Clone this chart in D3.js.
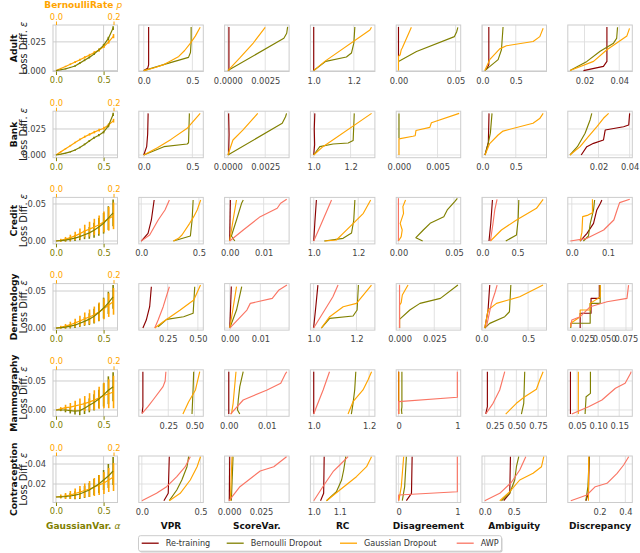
<!DOCTYPE html>
<html lang="en">
<head>
<meta charset="UTF-8">
<title>Loss difference vs. multiplicity metrics</title>
<script src="https://d3js.org/d3.v7.min.js"></script>
<style>
  body { margin: 0; background: #fff; }
  text { font-family: "DejaVu Sans", sans-serif; }
</style>
</head>
<body>
<svg id="chart" width="640" height="553"></svg>
<script>
// ---- labels ----
const datasets = ['Adult', 'Bank', 'Credit', 'Dermatology', 'Mammography', 'Contraception'];
const metrics = ['VPR', 'ScoreVar.', 'RC', 'Disagreement', 'Ambiguity', 'Discrepancy'];
const methods = ['Re-training', 'Bernoulli Dropout', 'Gaussian Dropout', 'AWP'];
const colors = ['#8b0000', '#808000', '#ffa500', '#fa7564'];

// ---- y axis (loss difference) per dataset ----
const yDomains = [[-0.0008, 0.0397], [-0.0026, 0.0421], [-0.0039, 0.0589], [-0.0028, 0.060], [-0.0109, 0.0693], [0.0015, 0.048]];
const yTickVals = [[0, 0.025], [0, 0.025], [0, 0.05], [0, 0.05], [0, 0.05], [0.02, 0.04]];
const yTickFmt = ['.3f', '.3f', '.2f', '.2f', '.2f', '.2f'];

// ---- x axes of the metric panels ----
const xDomains = [
  [[-0.051, 0.612], [-0.00022, 0.0041], [0.9835, 1.305], [-0.002, 0.0545], [-0.005, 0.96], [0.0104, 0.0475]],
  [[-0.051, 0.612], [-0.00022, 0.0041], [0.982, 1.332], [-0.00036, 0.008], [-0.005, 0.96], [0.0003, 0.0417]],
  [[-0.021, 0.538], [-0.0015, 0.0175], [0.985, 1.275], [-0.002, 0.056], [-0.006, 0.914], [-0.011, 0.167]],
  [[0.011, 0.545], [-0.0017, 0.0194], [0.985, 1.286], [-0.0024, 0.044], [0.006, 0.697], [0.0082, 0.0823]],
  [[-0.032, 0.585], [-0.0011, 0.0159], [0.988, 1.221], [-0.04, 1.057], [0.104, 0.847], [0.028, 0.181]],
  [[-0.026, 0.524], [-0.0035, 0.047], [0.987, 1.235], [-0.04, 1.057], [-0.047, 1.064], [-0.046, 0.454]]
];
const xTickVals = [
  [[0, 0.5], [0, 0.0025], [1.0, 1.2], [0, 0.05], [0, 0.5], [0.02, 0.04]],
  [[0, 0.5], [0, 0.0025], [1.0, 1.2], [0, 0.005], [0, 0.5], [0.02, 0.04]],
  [[0, 0.5], [0, 0.01], [1.0, 1.2], [0, 0.05], [0, 0.5], [0, 0.1]],
  [[0.25, 0.5], [0, 0.01], [1.0, 1.2], [0, 0.025], [0, 0.5], [0.025, 0.05, 0.075]],
  [[0.25, 0.5], [0, 0.01], [1.0, 1.2], [0, 1], [0.25, 0.5, 0.75], [0.05, 0.1, 0.15]],
  [[0, 0.5], [0, 0.025], [1.0, 1.1], [0, 1], [0, 0.5], [0.2, 0.4]]
];
const xTickFmt = [
  ['.1f', '.4f', '.1f', '.2f', '.1f', '.2f'],
  ['.1f', '.4f', '.1f', '.3f', '.1f', '.2f'],
  ['.1f', '.2f', '.1f', '.2f', '.1f', '.1f'],
  ['.2f', '.2f', '.1f', '.3f', '.1f', '.3f'],
  ['.2f', '.2f', '.1f', '.0f', '.2f', '.2f'],
  ['.1f', '.3f', '.1f', '.0f', '.1f', '.1f']
];

// ---- first column: epsilon vs. hyper-parameter ----
const alphaVals = [0, 0.05, 0.1, 0.15, 0.2, 0.25, 0.3, 0.35, 0.4, 0.45, 0.5, 0.55, 0.6];
const rateVals = [0, 0.0167, 0.0333, 0.05, 0.0667, 0.0833, 0.1, 0.1167, 0.1333, 0.15, 0.1667, 0.1833, 0.2];
const alphaEps = [
  [0, .0007, .0015, .0027, .004, .0065, .009, .0115, .0145, .018, .022, .028, .037],
  [0, .0008, .0018, .003, .0048, .0072, .0102, .0135, .0165, .019, .022, .028, .039],
  [0, .0005, .0012, .0025, .004, .006, .0085, .011, .0145, .019, .024, .031, .038],
  [0, .0005, .0012, .0025, .004, .0065, .009, .012, .016, .021, .027, .034, .042],
  [0, 0, 0, -.001, -.002, -.001, .003, .008, .013, .019, .026, .034, .040],
  [.007, .0072, .0075, .008, .0088, .01, .012, .014, .017, .02, .024, .028, .033]
];
const alphaErr = [
  [0, .0003, .0004, .0005, .0006, .0007, .0008, .0009, .001, .0011, .0012, .0014, .0016],
  [0, .0003, .0004, .0005, .0006, .0007, .0008, .0009, .001, .0011, .0012, .0014, .0016],
  [0, .001, .002, .003, .004, .005, .006, .008, .01, .012, .014, .016, .018],
  [0, .001, .002, .003, .004, .005, .006, .008, .01, .012, .014, .015, .016],
  [0, .002, .004, .005, .006, .008, .01, .012, .014, .016, .02, .024, .025],
  [0, .001, .002, .003, .004, .005, .006, .007, .008, .009, .01, .012, .014]
];
const rateEps = [
  [0, .0018, .0036, .0055, .0075, .0095, .0115, .0135, .0157, .018, .021, .025, .030],
  [0, .003, .006, .009, .012, .015, .0176, .0198, .022, .024, .0257, .029, .033],
  [0, .001, .0025, .0045, .007, .010, .0135, .016, .019, .022, .026, .030, .034],
  [0, .001, .0025, .0045, .007, .0095, .0125, .015, .018, .022, .026, .031, .036],
  [0, .002, .004, .005, .007, .009, .011, .014, .017, .021, .025, .028, .031],
  [.007, .0075, .008, .009, .0105, .012, .0135, .015, .017, .019, .021, .024, .027]
];
const rateErr = [
  [0, .0005, .0006, .0007, .0008, .0009, .001, .0011, .0012, .0013, .0014, .0015, .0018],
  [0, .0005, .0006, .0007, .0008, .0009, .001, .0011, .0012, .0013, .0014, .0015, .0018],
  [0, .002, .003, .004, .0055, .007, .0085, .01, .011, .0125, .014, .016, .018],
  [0, .002, .003, .004, .0055, .007, .0085, .01, .011, .0125, .014, .016, .018],
  [0, .003, .005, .007, .009, .011, .013, .015, .017, .019, .022, .025, .028],
  [0, .002, .003, .004, .005, .006, .007, .008, .009, .01, .011, .012, .014]
];

// ---- metric panels: per metric [Re-training, Bernoulli, Gaussian, AWP], points [metric, eps] ----
const adultCurves = [
  [[[0, 0], [0.04, 0.002], [0.05, 0.005], [0.05, 0.038]],
   [[0, 0], [0.23, 0.0058], [0.46, 0.0115], [0.48, 0.0158], [0.487, 0.025], [0.487, 0.038]],
   [[0, 0], [0.1, 0.0022], [0.207, 0.0052], [0.28, 0.0085], [0.36, 0.0123], [0.42, 0.0175], [0.48, 0.0239], [0.53, 0.030], [0.58, 0.0377]],
   null],
  [[[0.00007, 0], [0.00007, 0.038]],
   [[0, 0], [0.00375, 0.0282], [0.00394, 0.0325], [0.004, 0.038]],
   [[0, 0], [0.0008, 0.011], [0.0017, 0.024], [0.0025, 0.0377]],
   null],
  [[[1.0, 0], [1.0, 0.038]],
   [[1.0, 0], [1.06, 0.008], [1.163, 0.0118], [1.188, 0.0153], [1.2, 0.0239], [1.205, 0.038]],
   [[1.0, 0], [1.055, 0.008], [1.28, 0.0353], [1.288, 0.0377]],
   null],
  [[[0, 0.0123], [0, 0.038]],
   [[0, 0.008], [0.0158, 0.0166], [0.049, 0.0296], [0.051, 0.0339], [0.052, 0.0377]],
   [[0, 0], [0, 0.0123], [0.0015, 0.0138], [0.0024, 0.0181], [0.0033, 0.0196], [0.0113, 0.0377]],
   null],
  [[[0.06, 0.0009], [0.097, 0.005], [0.097, 0.038]],
   [[0.037, 0], [0.236, 0.0095], [0.286, 0.0181], [0.31, 0.038]],
   [[0.037, 0], [0.11, 0.0095], [0.26, 0.0189], [0.36, 0.0216], [0.76, 0.0253], [0.86, 0.0296], [0.91, 0.0368]],
   null],
  [[[0.0194, 0], [0.0309, 0.0037], [0.0329, 0.008], [0.0329, 0.038]],
   [[0.0117, 0], [0.0214, 0.008], [0.029, 0.0168], [0.0367, 0.0239], [0.038, 0.027], [0.0385, 0.028], [0.039, 0.0377]],
   [[0.0117, 0], [0.0252, 0.008], [0.0329, 0.0181], [0.0444, 0.0302], [0.0459, 0.0368]],
   null]
];
const bankCurves = [
  [[[0, 0], [0.03, 0.008], [0.04, 0.02], [0.045, 0.040]],
   [[0, 0], [0.207, 0.008], [0.446, 0.0106], [0.46, 0.0118], [0.469, 0.040]],
   [[0, 0], [0.14, 0.007], [0.28, 0.015], [0.45, 0.026], [0.58, 0.040]],
   null],
  [[[0.00005, 0], [0.00008, 0.02], [0.00005, 0.040]],
   [[0, 0], [0.00364, 0.0305], [0.00386, 0.0368], [0.00393, 0.040]],
   [[0, 0], [0.00034, 0.0144], [0.001, 0.024], [0.002, 0.040]],
   null],
  [[[1.0, 0], [1.005, 0.01], [1.003, 0.025], [1.006, 0.040]],
   [[1.0, 0], [1.033, 0.008], [1.105, 0.0106], [1.187, 0.0115], [1.214, 0.014], [1.22, 0.040]],
   [[1.0, 0], [1.05, 0.008], [1.314, 0.040]],
   null],
  [null,
   [[0, 0.016], [0, 0.040]],
   [[0, 0], [0, 0.0155], [0.0018, 0.018], [0.0021, 0.0185], [0.0022, 0.0235], [0.004, 0.0265], [0.0042, 0.031], [0.0078, 0.040]],
   null],
  [[[0.04, 0], [0.09, 0.012], [0.1, 0.040]],
   [[0.04, 0], [0.087, 0.011], [0.12, 0.021], [0.145, 0.040]],
   [[0.04, 0], [0.11, 0.011], [0.236, 0.0192], [0.31, 0.023], [0.758, 0.0305], [0.858, 0.035], [0.91, 0.040]],
   null],
  [[[0.0089, 0], [0.0125, 0.008], [0.0168, 0.0112], [0.0232, 0.0144], [0.0243, 0.024], [0.0361, 0.0272], [0.0394, 0.0288], [0.04, 0.040]],
   [[0.0017, 0], [0.00645, 0.008], [0.0114, 0.0209], [0.0146, 0.0337], [0.0157, 0.040]],
   [[0.0017, 0], [0.0082, 0.008], [0.0135, 0.0176], [0.019, 0.0272], [0.0232, 0.0353], [0.0265, 0.040]],
   null]
];
const creditCurves = [
  [[[0, 0], [0.059, 0.0104], [0.088, 0.0284], [0.112, 0.0554]],
   [[0.279, 0], [0.426, 0.0068], [0.441, 0.0284], [0.45, 0.0554]],
   [[0.279, 0], [0.323, 0.0036], [0.353, 0.0081], [0.42, 0.0239], [0.455, 0.0329], [0.485, 0.0419], [0.515, 0.0554]],
   [[0, 0], [0.073, 0.0081], [0.147, 0.0284], [0.206, 0.0419], [0.244, 0.0554]]],
  [[[0, 0], [0.0002, 0.0554]],
   [[0.0015, 0], [0.0005, 0.0068], [0.002, 0.0284], [0.0035, 0.0509], [0.004, 0.0554]],
   [[0, 0], [0.001, 0.0284], [0.002, 0.0554]],
   [[0, 0], [0.004, 0.0149], [0.009, 0.0329], [0.014, 0.0442], [0.015, 0.051], [0.0168, 0.0563]]],
  [[[1.0, 0], [1.005, 0.025], [1.012, 0.0554]],
   [[1.047, 0], [1.132, 0.0036], [1.17, 0.0108], [1.18, 0.0284], [1.185, 0.0554]],
   [[1.05, 0], [1.102, 0.0014], [1.132, 0.0104], [1.178, 0.0239], [1.223, 0.0374], [1.256, 0.0554]],
   [[1.0, 0], [1.035, 0.0239], [1.08, 0.0554]]],
  [null,
   [[0.0218, 0], [0.0157, 0.0045], [0.0224, 0.0149], [0.0285, 0.0239], [0.0408, 0.0329], [0.0439, 0.0419], [0.0506, 0.0531], [0.053, 0.0577]],
   [[0, 0], [0.0025, 0.0059], [0.0034, 0.0149], [0.0016, 0.0239], [0.0046, 0.0374], [0.004, 0.0464], [0.0064, 0.0554]],
   [[0, 0], [0, 0.0577]]],
  [[[0.094, 0], [0.119, 0.0239], [0.143, 0.0554]],
   [[0.333, 0], [0.486, 0.0081], [0.509, 0.0284], [0.519, 0.0554]],
   [[0.114, 0], [0.271, 0.0149], [0.486, 0.0284], [0.771, 0.0442], [0.866, 0.0563]],
   [[0.114, 0], [0.151, 0.0239], [0.176, 0.0419], [0.209, 0.0563]]],
  [[[0.023, 0], [0.042, 0.0104], [0.06, 0.0239], [0.069, 0.0419], [0.079, 0.051], [0.083, 0.0554]],
   [[0.032, 0], [0.046, 0.0068], [0.051, 0.0239], [0.06, 0.0419], [0.063, 0.0554]],
   [[0.023, 0], [0.028, 0.012], [0.03, 0.0329], [0.045, 0.035], [0.057, 0.038], [0.057, 0.0563]],
   [[-0.004, 0], [0.042, 0.0036], [0.088, 0.0149], [0.116, 0.0284], [0.125, 0.0419], [0.132, 0.0518], [0.16, 0.0563]]]
];
const dermatologyCurves = [
  [[[0.045, 0], [0.073, 0.0108], [0.101, 0.0288], [0.115, 0.0558]],
   [[0.171, 0.0018], [0.242, 0.0117], [0.382, 0.0153], [0.461, 0.0199], [0.474, 0.0558]],
   [[0.143, 0], [0.213, 0.0085], [0.354, 0.0243], [0.466, 0.0378], [0.522, 0.058]],
   [[0.143, 0], [0.171, 0.0108], [0.213, 0.0288], [0.264, 0.0558]]],
  [[[0, 0], [0.0005, 0.056]],
   [[0, 0], [0.0022, 0.0243], [0.0039, 0.056]],
   [[0, 0], [0.001, 0.025], [0.0022, 0.056]],
   [[0, 0], [0.0056, 0.0243], [0.0067, 0.0333], [0.0139, 0.0401], [0.0161, 0.0514], [0.0187, 0.058]]],
  [[[1.0, 0], [1.01, 0.028], [1.02, 0.058]],
   [[1.036, 0], [1.075, 0.0131], [1.184, 0.0162], [1.203, 0.0243], [1.209, 0.058]],
   [[1.036, 0], [1.075, 0.0153], [1.138, 0.0288], [1.2, 0.0333], [1.27, 0.058]],
   [[1.0, 0], [1.052, 0.0243], [1.09, 0.0423], [1.114, 0.058]]],
  [null,
   [[0, 0], [0, 0.0117], [0.0074, 0.0243], [0.0147, 0.0333], [0.0294, 0.0401], [0.042, 0.058]],
   [[0, 0], [0, 0.031], [0.0012, 0.0342], [0.002, 0.0446], [0.0061, 0.058]],
   [[0, 0], [0, 0.058]]],
  [[[0.036, 0], [0.071, 0.0243], [0.089, 0.058]],
   [[0.036, 0], [0.089, 0.0063], [0.25, 0.0153], [0.3, 0.022], [0.315, 0.058]],
   [[0.036, 0], [0.071, 0.0243], [0.161, 0.0333], [0.41, 0.0423], [0.66, 0.058]],
   [[0.054, 0.0018], [0.107, 0.0333], [0.143, 0.0469], [0.168, 0.058]]],
  [[[0.0224, 0], [0.0224, 0.0199], [0.0349, 0.0199], [0.0349, 0.0401], [0.0444, 0.0401], [0.0444, 0.058]],
   [[0.0116, 0], [0.0116, 0.0064], [0.0339, 0.0064], [0.0339, 0.0333], [0.0454, 0.0333], [0.0454, 0.058]],
   [[0.0116, 0.0018], [0.0116, 0.0064], [0.0224, 0.0153], [0.0224, 0.0243], [0.0339, 0.0243], [0.0339, 0.0333], [0.0454, 0.042], [0.0454, 0.058]],
   [[0.0117, 0.0018], [0.0128, 0.0108], [0.0224, 0.0153], [0.034, 0.0288], [0.0532, 0.0355], [0.0762, 0.0401], [0.078, 0.058]]]
];
const mammographyCurves = [
  [[[0, -0.006], [0.007, 0.0057], [0.007, 0.066]],
   [[0.477, -0.0069], [0.487, 0.0345], [0.493, 0.066]],
   [[0.39, -0.0069], [0.445, 0.0143], [0.51, 0.0345], [0.551, 0.066]],
   [[0, -0.006], [0.055, 0.0057], [0.104, 0.0172], [0.2, 0.0402], [0.22, 0.05], [0.227, 0.066]]],
  [[[0, -0.007], [0, 0.066]],
   [[0.0029, -0.007], [0.0023, 0], [0.0025, 0.0172], [0.0029, 0.0402], [0.0038, 0.066]],
   [[0.0007, -0.007], [0.00115, 0.0115], [0.0019, 0.066]],
   [[0.00045, -0.007], [0.0038, 0.0172], [0.0101, 0.0345], [0.0137, 0.046], [0.015, 0.0632], [0.0153, 0.066]]],
  [[[1.0, -0.007], [1.0, 0.066]],
   [[1.136, -0.007], [1.142, 0.0115], [1.148, 0.0345], [1.152, 0.066]],
   [[1.124, -0.007], [1.142, 0.0143], [1.178, 0.0345], [1.196, 0.0517], [1.209, 0.066]],
   [[1.0, -0.007], [1.01, 0.0057], [1.034, 0.0345], [1.057, 0.066]]],
  [[[0, -0.007], [0, 0.066]],
   [[0.057, -0.007], [0.05, 0.0], [0.057, 0.005], [0.057, 0.066]],
   [[0.005, -0.007], [0.005, 0.066]],
   [[0, -0.007], [0, 0.0143], [1.0, 0.022], [1.0, 0.066]]],
  [[[0.147, -0.0069], [0.166, 0.0057], [0.166, 0.066]],
   [[0.558, -0.007], [0.585, 0.0115], [0.596, 0.066]],
   [[0.377, -0.007], [0.5, 0.0115], [0.596, 0.0229], [0.731, 0.0357], [0.769, 0.0517], [0.808, 0.066]],
   [[0.147, -0.007], [0.231, 0.0115], [0.308, 0.0345], [0.366, 0.066]]],
  [[[0.0343, -0.007], [0.0343, 0.066]],
   [[0.069, -0.007], [0.0714, 0.0229], [0.0817, 0.0287], [0.0817, 0.066]],
   [[0.053, -0.007], [0.053, 0.066]],
   [[0.0374, -0.007], [0.0773, 0.0057], [0.109, 0.0172], [0.141, 0.0374], [0.164, 0.046], [0.177, 0.0632], [0.178, 0.066]]]
];
const contraceptionCurves = [
  [[[0.188, 0.0033], [0.225, 0.0107], [0.234, 0.0473]],
   [[0.234, 0.0033], [0.298, 0.014], [0.341, 0.024], [0.385, 0.0373], [0.399, 0.0473]],
   [[0.234, 0.0033], [0.327, 0.0107], [0.413, 0.024], [0.471, 0.0373], [0.5, 0.0473]],
   [[0, 0.0033], [0.125, 0.0107], [0.211, 0.0173], [0.298, 0.0273], [0.37, 0.0373], [0.413, 0.0473]]],
  [[[0.0002, 0.0033], [0.0005, 0.0473]],
   [[0.0018, 0.0033], [0.0031, 0.0473]],
   [[0.001, 0.0033], [0.0023, 0.0473]],
   [[0, 0.0033], [0.0085, 0.0173], [0.0244, 0.033], [0.035, 0.0373], [0.045, 0.0473]]],
  [[[1.026, 0.0033], [1.038, 0.0107], [1.04, 0.0473]],
   [[1.049, 0.0033], [1.087, 0.0123], [1.107, 0.024], [1.115, 0.034], [1.123, 0.0473]],
   [[1.049, 0.0033], [1.1, 0.014], [1.164, 0.0273], [1.203, 0.0373], [1.222, 0.0473]],
   [[1.0, 0.0033], [1.036, 0.0177], [1.074, 0.0323], [1.1, 0.039], [1.132, 0.0473]]],
  [[[0.133, 0.0033], [0.22, 0.0107], [0.231, 0.0473]],
   [[0.064, 0.0033], [0.104, 0.0173], [0.133, 0.0473]],
   [[0.005, 0.0033], [0.047, 0.0177], [0.087, 0.0473]],
   [[0, 0.0033], [0, 0.009], [1.0, 0.0123], [1.0, 0.0473]]],
  [[[0.328, 0.0033], [0.431, 0.0107], [0.443, 0.0473]],
   [[0.288, 0.0033], [0.431, 0.0107], [0.517, 0.024], [0.546, 0.0373], [0.586, 0.0473]],
   [[0.259, 0.0033], [0.431, 0.0123], [0.603, 0.024], [0.833, 0.0307], [0.978, 0.0373], [1.017, 0.0473]],
   [[0, 0.0033], [0.259, 0.0107], [0.46, 0.0217], [0.603, 0.034], [0.707, 0.0473]]],
  [[[0.094, 0.0033], [0.114, 0.0107], [0.12, 0.0473]],
   [[0.094, 0.0033], [0.11, 0.0173], [0.12, 0.0473]],
   [[0.114, 0.0033], [0.116, 0.0473]],
   [[-0.023, 0.0033], [0.102, 0.009], [0.167, 0.0173], [0.258, 0.0207], [0.336, 0.0307], [0.387, 0.039], [0.426, 0.0473]]]
];
const allCurves = [adultCurves, bankCurves, creditCurves, dermatologyCurves, mammographyCurves, contraceptionCurves];

// ---- layout ----
const panelW = 64.5, panelH = 46.5;
const colX = c => 53 + c * 85.8;
const rowY = r => 25 + r * 86.2;
const tickFont = 8.3;

const svg = d3.select('#chart');
svg.append('rect').attr('width', 640).attr('height', 553).attr('fill', '#fff');

function styleAxis(sel, color) {
  sel.select('.domain').remove();
  sel.attr('font-family', null).attr('font-size', null);
  sel.selectAll('text').attr('font-size', tickFont).attr('fill', color || '#444');
}

function frame(g) {
  g.append('rect').attr('width', panelW).attr('height', panelH)
    .attr('fill', 'none').attr('stroke', '#cccccc').attr('stroke-width', 1);
}

datasets.forEach((name, r) => {
  const top = rowY(r);
  const ys = d3.scaleLinear().domain(yDomains[r]).range([panelH, 0]);

  // ---------- first column ----------
  const g0 = svg.append('g').attr('transform', `translate(${colX(0)},${top})`);
  const aScale = d3.scaleLinear().domain([-0.031, 0.646]).range([0, panelW]);
  const pScale = d3.scaleLinear().domain([-0.0103, 0.2138]).range([0, panelW]);

  g0.selectAll('.hg').data(yTickVals[r]).enter().append('line')
    .attr('x1', 0).attr('x2', panelW).attr('y1', d => ys(d)).attr('y2', d => ys(d))
    .attr('stroke', '#c8c8c8').attr('stroke-width', 0.9);
  g0.selectAll('.vg').data([0, 0.5]).enter().append('line')
    .attr('x1', d => aScale(d)).attr('x2', d => aScale(d)).attr('y1', 0).attr('y2', panelH)
    .attr('stroke', '#c8c8c8').attr('stroke-width', 0.9);
  frame(g0);

  // error bars
  g0.selectAll('.ea').data(alphaVals).enter().append('line')
    .attr('x1', d => aScale(d)).attr('x2', d => aScale(d))
    .attr('y1', (d, i) => ys(alphaEps[r][i] - alphaErr[r][i]))
    .attr('y2', (d, i) => ys(alphaEps[r][i] + alphaErr[r][i]))
    .attr('stroke', colors[1]).attr('stroke-width', 1.6);
  g0.selectAll('.ep').data(rateVals).enter().append('line')
    .attr('x1', d => pScale(d)).attr('x2', d => pScale(d))
    .attr('y1', (d, i) => ys(rateEps[r][i] - rateErr[r][i]))
    .attr('y2', (d, i) => ys(rateEps[r][i] + rateErr[r][i]))
    .attr('stroke', colors[2]).attr('stroke-width', 1.6);

  g0.append('path')
    .datum(rateVals.map((v, i) => [v, rateEps[r][i]]))
    .attr('d', d3.line().x(d => pScale(d[0])).y(d => ys(d[1])))
    .attr('fill', 'none').attr('stroke', colors[2]).attr('stroke-width', 1.2);
  g0.append('path')
    .datum(alphaVals.map((v, i) => [v, alphaEps[r][i]]))
    .attr('d', d3.line().x(d => aScale(d[0])).y(d => ys(d[1])))
    .attr('fill', 'none').attr('stroke', colors[1]).attr('stroke-width', 1.2);

  g0.append('g').attr('transform', `translate(0,${panelH})`)
    .call(d3.axisBottom(aScale).tickValues([0, 0.5]).tickFormat(d3.format('.1f')).tickSize(3.5).tickPadding(2.5))
    .call(a => styleAxis(a, colors[1]))
    .call(a => a.selectAll('line').attr('stroke', colors[1]));
  g0.append('g')
    .call(d3.axisTop(pScale).tickValues([0, 0.2]).tickFormat(d3.format('.1f')).tickSize(3.5).tickPadding(2))
    .call(a => styleAxis(a, colors[2]))
    .call(a => a.selectAll('line').attr('stroke', colors[2]));
  g0.append('g')
    .call(d3.axisLeft(ys).tickValues(yTickVals[r]).tickFormat(d3.format(yTickFmt[r])).tickSize(0).tickPadding(7))
    .call(a => styleAxis(a));

  // row labels
  const yc = top + panelH / 2;
  svg.append('text').attr('transform', `translate(16.5,${yc}) rotate(-90)`)
    .attr('text-anchor', 'middle').attr('font-size', 9.2).attr('font-weight', 'bold').attr('fill', '#111')
    .text(name);
  const ll = svg.append('text').attr('transform', `translate(26.5,${yc}) rotate(-90)`)
    .attr('text-anchor', 'middle').attr('font-size', 9.8).attr('fill', '#222');
  ll.append('tspan').text('Loss Diff. ');
  ll.append('tspan').attr('font-style', 'italic').text('ε');

  // ---------- metric columns ----------
  metrics.forEach((metric, m) => {
    const g = svg.append('g').attr('transform', `translate(${colX(m + 1)},${top})`);
    const xs = d3.scaleLinear().domain(xDomains[r][m]).range([0, panelW]);

    g.selectAll('.hg').data(yTickVals[r]).enter().append('line')
      .attr('x1', 0).attr('x2', panelW).attr('y1', d => ys(d)).attr('y2', d => ys(d))
      .attr('stroke', '#dedede').attr('stroke-width', 0.9);
    g.selectAll('.vg').data(xTickVals[r][m]).enter().append('line')
      .attr('x1', d => xs(d)).attr('x2', d => xs(d)).attr('y1', 0).attr('y2', panelH)
      .attr('stroke', '#dedede').attr('stroke-width', 0.9);
    frame(g);

    const line = d3.line().x(d => xs(d[0])).y(d => ys(d[1]));
    allCurves[r][m].forEach((pts, s) => {
      if (!pts) return;
      g.append('path').datum(pts).attr('d', line)
        .attr('fill', 'none').attr('stroke', colors[s]).attr('stroke-width', 1.15)
        .attr('stroke-linejoin', 'round');
    });

    g.append('g').attr('transform', `translate(0,${panelH})`)
      .call(d3.axisBottom(xs).tickValues(xTickVals[r][m]).tickFormat(d3.format(xTickFmt[r][m])).tickSize(0).tickPadding(6.5))
      .call(a => styleAxis(a));
  });
});

// ---------- axis titles ----------
const topLbl = svg.append('text').attr('x', colX(0) + panelW / 2 - 2).attr('y', 8)
  .attr('text-anchor', 'middle').attr('font-size', 9).attr('fill', colors[2]);
topLbl.append('tspan').attr('font-weight', 'bold').text('BernoulliRate ');
topLbl.append('tspan').attr('font-style', 'italic').text('p');

const botY = rowY(5) + panelH + 26;
const botLbl = svg.append('text').attr('x', colX(0) + panelW / 2 - 2).attr('y', botY)
  .attr('text-anchor', 'middle').attr('font-size', 9).attr('fill', colors[1]);
botLbl.append('tspan').attr('font-weight', 'bold').text('GaussianVar. ');
botLbl.append('tspan').attr('font-style', 'italic').text('α');

metrics.forEach((metric, m) => {
  svg.append('text').attr('x', colX(m + 1) + panelW / 2).attr('y', botY)
    .attr('text-anchor', 'middle').attr('font-size', 9).attr('font-weight', 'bold').attr('fill', '#111')
    .text(metric);
});

// ---------- legend ----------
const legend = svg.append('g');
legend.append('rect').attr('x', 139.5).attr('y', 537).attr('width', 363).attr('height', 15.5)
  .attr('rx', 2).attr('fill', '#999').attr('opacity', 0.5);
legend.append('rect').attr('x', 138.5).attr('y', 535.7).attr('width', 363).attr('height', 15.5)
  .attr('rx', 2).attr('fill', '#fff').attr('stroke', '#cccccc');
const legendX = [141.7, 226.7, 340, 456.7];
methods.forEach((name, i) => {
  legend.append('line').attr('x1', legendX[i]).attr('x2', legendX[i] + 17)
    .attr('y1', 543.2).attr('y2', 543.2).attr('stroke', colors[i]).attr('stroke-width', 1.3);
  legend.append('text').attr('x', legendX[i] + 24).attr('y', 546.2)
    .attr('font-size', 8.1).attr('fill', '#333').text(name);
});
</script>
</body>
</html>
